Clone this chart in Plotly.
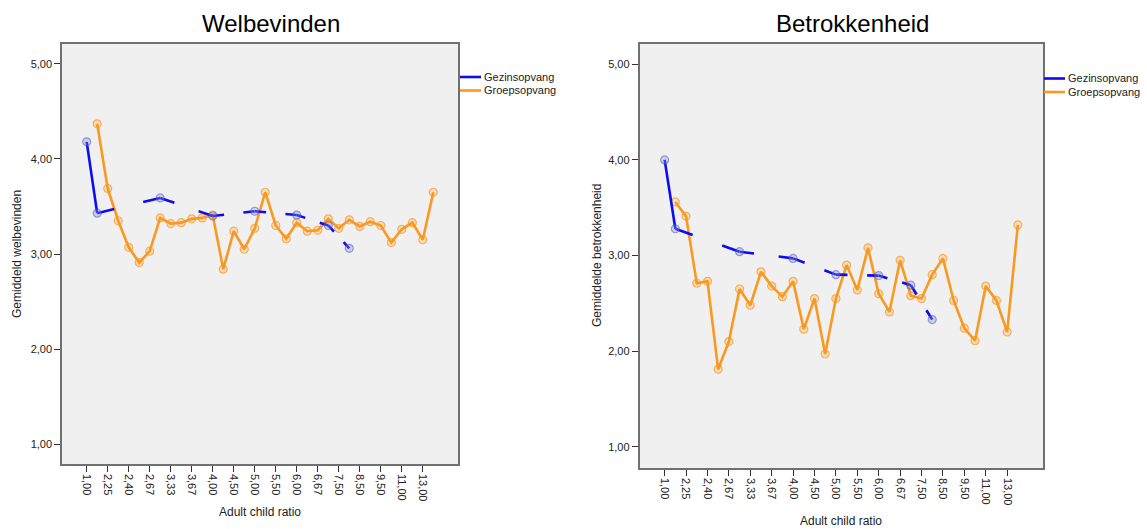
import plotly.graph_objects as go

# ---------------- data ----------------
categories = ["1,00", "2,00", "2,25", "2,33", "2,40", "2,50", "2,67", "3,00", "3,33", "3,50",
              "3,67", "3,75", "4,00", "4,33", "4,50", "4,67", "5,00", "5,33", "5,50", "5,67",
              "6,00", "6,33", "6,67", "7,00", "7,50", "8,00", "8,50", "9,00", "9,50", "10,00",
              "11,00", "12,00", "13,00", "14,00"]
series_names = ["Gezinsopvang", "Groepsopvang"]

welb_gezin = [4.18, 3.43, None, None, None, None, None, 3.59, None, None,
              None, None, 3.40, None, None, None, 3.45, None, None, None,
              3.41, None, None, 3.30, None, 3.06, None, None, None, None,
              None, None, None, None]
welb_groep = [None, 4.37, 3.69, 3.35, 3.07, 2.91, 3.03, 3.38, 3.32, 3.33,
              3.37, 3.38, 3.41, 2.84, 3.24, 3.05, 3.27, 3.65, 3.30, 3.16,
              3.33, 3.24, 3.25, 3.37, 3.27, 3.36, 3.29, 3.34, 3.30, 3.12,
              3.26, 3.33, 3.15, 3.65]

betr_gezin = [4.00, 3.28, None, None, None, None, None, 3.04, None, None,
              None, None, 2.97, None, None, None, 2.80, None, None, None,
              2.79, None, None, 2.69, None, 2.33, None, None, None, None,
              None, None, None, None]
betr_groep = [None, 3.56, 3.41, 2.71, 2.73, 1.81, 2.10, 2.65, 2.48, 2.83,
              2.68, 2.57, 2.73, 2.23, 2.55, 1.97, 2.55, 2.90, 2.64, 3.08,
              2.60, 2.41, 2.95, 2.58, 2.55, 2.80, 2.97, 2.53, 2.24, 2.11,
              2.68, 2.53, 2.20, 3.32]

y_tick_vals = [1, 2, 3, 4, 5]
y_tick_text = ["1,00", "2,00", "3,00", "4,00", "5,00"]

titles = ["Welbevinden", "Betrokkenheid"]
y_titles = ["Gemiddeld welbevinden", "Gemiddelde betrokkenheid"]
x_title = "Adult child ratio"

# ---------------- styling ----------------
W, H = 1147, 529
BLUE = "rgb(12,12,240)"
ORANGE = "rgb(250,152,32)"
FONT = "Arial, Liberation Sans, sans-serif"
GAP_FRAC = 0.27


def px(x):
    return x / W


def py(y):
    return 1 - y / H


def spss_segments(vals):
    """Line pieces as SPSS draws them: full between adjacent categories,
    short stubs toward the next valid point across missing categories."""
    pts = [(i, v) for i, v in enumerate(vals) if v is not None]
    xs, ys = [], []
    for (i0, v0), (i1, v1) in zip(pts[:-1], pts[1:]):
        if i1 - i0 == 1:
            xs += [i0, i1, None]
            ys += [v0, v1, None]
        else:
            f = GAP_FRAC
            xs += [i0, i0 + f * (i1 - i0), None, i1 - f * (i1 - i0), i1, None]
            ys += [v0, v0 + f * (v1 - v0), None, v1 - f * (v1 - v0), v1, None]
    return xs, ys


fig = go.Figure()

panels = [
    dict(gezin=welb_gezin, groep=welb_groep, xa="x", ya="y"),
    dict(gezin=betr_gezin, groep=betr_groep, xa="x2", ya="y2"),
]
idx = list(range(len(categories)))

for p in panels:
    fig.add_trace(go.Scatter(
        x=idx, y=p["groep"], mode="lines+markers", xaxis=p["xa"], yaxis=p["ya"],
        line=dict(color=ORANGE, width=2.6), connectgaps=False,
        marker=dict(symbol="circle", size=8, color="rgba(250,152,32,0.22)",
                    line=dict(color="rgba(250,152,32,0.7)", width=1.2)),
        showlegend=False, name=series_names[1]))
    sx, sy = spss_segments(p["gezin"])
    fig.add_trace(go.Scatter(
        x=sx, y=sy, mode="lines", xaxis=p["xa"], yaxis=p["ya"],
        line=dict(color=BLUE, width=2.6), showlegend=False, name=series_names[0],
        hoverinfo="skip"))
    fig.add_trace(go.Scatter(
        x=idx, y=p["gezin"], mode="markers", xaxis=p["xa"], yaxis=p["ya"],
        marker=dict(symbol="circle", size=8, color="rgba(140,150,210,0.35)",
                    line=dict(color="rgba(70,80,190,0.5)", width=1.2)),
        showlegend=False, name=series_names[0]))

x_tick_vals = idx[::2]
x_tick_text = categories[::2]

axis_common = dict(showgrid=False, zeroline=False, showline=True, mirror=True,
                   linecolor="#707070", linewidth=1.5, ticks="outside", ticklen=6,
                   tickcolor="#303030", tickwidth=1.2,
                   tickfont=dict(family=FONT, size=11, color="#222222"))

fig.update_layout(
    width=W, height=H, autosize=False,
    margin=dict(l=0, r=0, t=0, b=0),
    paper_bgcolor="white", plot_bgcolor="#F0F0F0",
    xaxis=dict(domain=[px(62), px(458)], range=[-2.35, 35.35], anchor="y",
               tickvals=x_tick_vals, ticktext=x_tick_text, tickangle=90, **axis_common),
    yaxis=dict(domain=[py(464), py(44)], range=[0.79, 5.21], anchor="x",
               tickvals=y_tick_vals, ticktext=y_tick_text, **axis_common),
    xaxis2=dict(domain=[px(639.5), px(1043)], range=[-2.35, 35.35], anchor="y2",
                tickvals=x_tick_vals, ticktext=x_tick_text, tickangle=90, **axis_common),
    yaxis2=dict(domain=[py(468), py(44)], range=[0.778, 5.212], anchor="x2",
                tickvals=y_tick_vals, ticktext=y_tick_text, **axis_common),
)

ann = []


def add_text(x, y, text, size, angle=0, xanchor="center", color="#222222"):
    ann.append(dict(x=px(x), y=py(y), xref="paper", yref="paper", text=text,
                    showarrow=False, textangle=angle,
                    font=dict(family=FONT, size=size, color=color),
                    xanchor=xanchor, yanchor="middle"))


# titles
add_text(271, 24, titles[0], 24, color="black")
add_text(852, 24, titles[1], 24, color="black")
# axis titles
add_text(260, 512, x_title, 12)
add_text(841, 521, x_title, 12)
add_text(17, 254, y_titles[0], 12, angle=-90)
add_text(597, 256, y_titles[1], 12, angle=-90)

# legends (line samples + text)
shapes = []
legend_pos = [(460, 77), (1044, 78.5)]
for lx, ly in legend_pos:
    for k, (nm, col) in enumerate(zip(series_names, [BLUE, ORANGE])):
        yy = ly + k * 13.5
        shapes.append(dict(type="line", xref="paper", yref="paper",
                           x0=px(lx), x1=px(lx + 21), y0=py(yy), y1=py(yy),
                           line=dict(color=col, width=2.6)))
        add_text(lx + 22, yy, nm, 11, xanchor="left")

fig.update_layout(annotations=ann, shapes=shapes)

fig.write_html("out.html",
               config={"displayModeBar": False},
               post_script="document.body.style.margin='0';"
                           "document.body.style.overflow='hidden';")
